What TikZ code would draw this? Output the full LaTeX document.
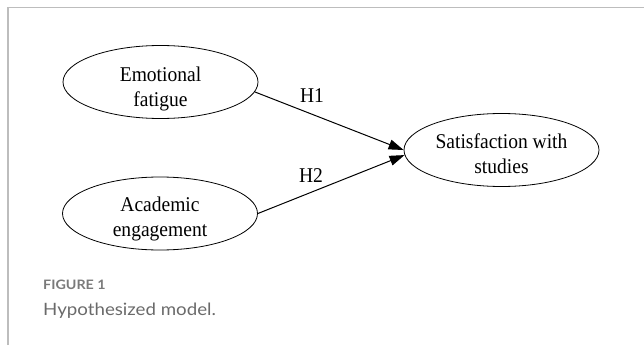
\documentclass[tikz,border=0pt]{standalone}
\usepackage{fontspec}
\setmainfont{Liberation Serif}
\newfontfamily\graphfont[FakeStretch=0.93]{Liberation Serif}
\newfontfamily\capfont[FakeStretch=1.1]{Lato}
\usetikzlibrary{shapes.geometric,arrows.meta}
\definecolor{framegray}{HTML}{BDBDBD}
\definecolor{capgray}{HTML}{7A7A7A}
\definecolor{capgray2}{HTML}{6A6A6A}
\tikzset{
  latent/.style={draw, ellipse, line width=0.8pt, minimum width=195pt, minimum height=73pt,
    inner sep=0pt},
  ltext/.style={inner sep=0pt, align=center, font=\graphfont\fontsize{21}{25}\selectfont},
  path/.style={line width=1pt, -{Triangle[length=15pt,width=10pt]}},
  hyp/.style={font=\graphfont\fontsize{21}{24}\selectfont, inner sep=0pt},
}
\begin{document}
\begin{tikzpicture}[x=1pt,y=-1pt]
\useasboundingbox (0,0) rectangle (644,345);
\draw[framegray, line width=1.8pt] (8,345) -- (8,7.5) -- (644,7.5);
\node[latent] (ef) at (160.5,82) {};
\node[latent] (ae) at (160,213.5) {};
\node[latent] (ss) at (501.5,150) {};
\node[ltext] (eft) at (160.5,89) {Emotional\\fatigue};
\node[ltext] (aet) at (160,219) {Academic\\engagement};
\node[ltext] (sst) at (501.5,154) {Satisfaction with\\studies};
\draw[path] (ef.-6) -- (ss.west);
\draw[path] (ae.east) -- (ss.183);
\node[hyp] (h1) at (312,96) {H1};
\node[hyp] (h2) at (311,176) {H2};
\node[anchor=base west, inner sep=0pt, text=capgray, font=\capfont\bfseries\fontsize{13}{15}\selectfont] (fig) at (43,289) {FIGURE 1};
\node[anchor=base west, inner sep=0pt, text=capgray2, font=\capfont\fontsize{17}{19}\selectfont] (cap) at (43,315) {Hypothesized model.};
\end{tikzpicture}
\end{document}
